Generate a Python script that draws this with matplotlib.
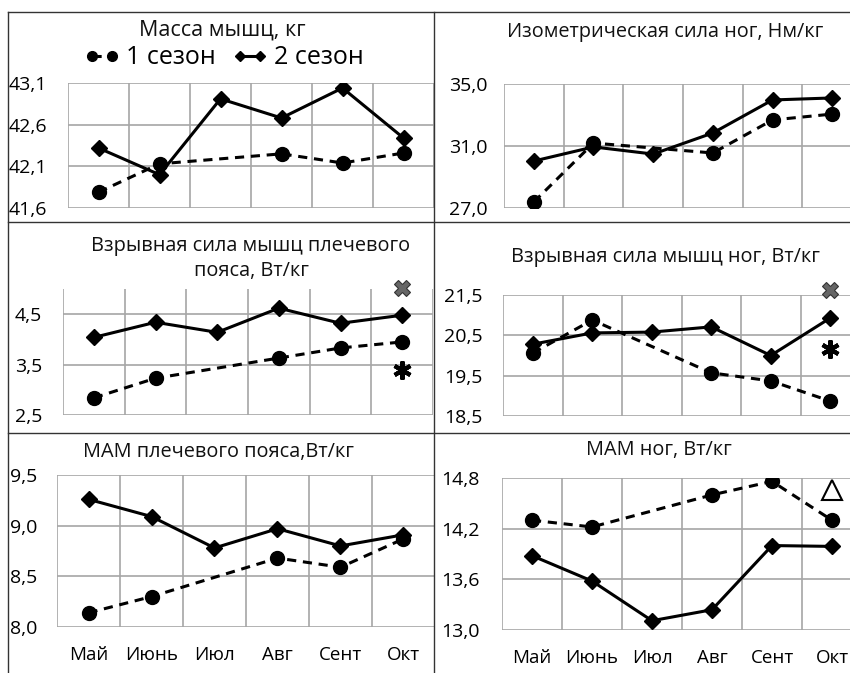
import numpy as np
import matplotlib.pyplot as plt
from matplotlib.lines import Line2D

plt.rcParams['font.family'] = ['Open Sans', 'DejaVu Sans']

W, H = 850, 673

months = ['Май', 'Июнь', 'Июл', 'Авг', 'Сент', 'Окт']
nan = np.nan

# 1 сезон (июль не измерялся) / 2 сезон
mass_s1 = [41.79, 42.13, nan, 42.25, 42.14, 42.26]
mass_s2 = [42.32, 42.00, 42.91, 42.68, 43.04, 42.44]

iso_s1 = [27.39, 31.19, nan, 30.55, 32.68, 33.06]
iso_s2 = [30.03, 30.94, 30.48, 31.84, 33.97, 34.10]

shoulder_s1 = [2.84, 3.23, nan, 3.63, 3.83, 3.95]
shoulder_s2 = [4.04, 4.34, 4.14, 4.62, 4.32, 4.48]

legs_s1 = [20.06, 20.88, nan, 19.57, 19.37, 18.87]
legs_s2 = [20.28, 20.56, 20.58, 20.71, 20.00, 20.93]

mam_sh_s1 = [8.14, 8.30, nan, 8.68, 8.59, 8.87]
mam_sh_s2 = [9.26, 9.09, 8.78, 8.97, 8.80, 8.91]

mam_leg_s1 = [14.30, 14.22, nan, 14.60, 14.76, 14.30]
mam_leg_s2 = [13.88, 13.58, 13.11, 13.24, 14.00, 13.99]

# значки достоверности у октября
shoulder_marks = [('x', 5.01), ('*', 3.39)]
legs_marks = [('x', 21.62), ('*', 20.16)]
mam_leg_marks = [('tri', 14.66)]

fig = plt.figure(figsize=(W / 100, H / 100), dpi=100)


def px_axes(x0, y0, x1, y1):
    return fig.add_axes([x0 / W, 1 - y1 / H, (x1 - x0) / W, (y1 - y0) / H])


def panel(rect, s1, s2, yticks, ylim, title, title_xy, marks=(), xlabels=False,
          tick_fs=14, title_fs=14.3, ypad=15):
    ax = px_axes(*rect)
    x = np.arange(6)
    s1 = np.array(s1, dtype=float)
    ok = ~np.isnan(s1)
    l1, = ax.plot(x[ok], s1[ok], color='black', lw=2.2, ls=(0, (3.0, 2.2)),
                  marker='o', ms=10, zorder=3)
    l2, = ax.plot(x, s2, color='black', lw=2.2, marker='D', ms=8, zorder=4)
    for kind, val in marks:
        if kind == 'x':
            ax.plot(5, val, marker='X', ms=11, color='#666666', mec='#333333',
                    mew=0.8, clip_on=False, zorder=5)
        elif kind == '*':
            ax.plot(5, val, marker=(6, 2, 0), ms=13, color='black', mew=3,
                    clip_on=False, zorder=5)
        else:
            ax.plot(5, val, marker='^', ms=15, mfc='white', mec='black',
                    mew=1.5, clip_on=False, zorder=5)
    ax.set_xlim(-0.5, 5.5)
    ax.set_ylim(*ylim)
    ax.set_yticks(yticks)
    ax.set_yticklabels([f'{v:.1f}'.replace('.', ',') for v in yticks], fontsize=tick_fs)
    ax.set_xticks(x)
    if xlabels:
        ax.set_xticklabels(months, fontsize=13.5)
    else:
        ax.set_xticklabels([])
    ax.set_xticks(np.arange(-0.5, 6.0, 1.0), minor=True)
    ax.tick_params(axis='both', which='both', length=0)
    ax.tick_params(axis='y', pad=ypad)
    ax.tick_params(axis='x', pad=14)
    ax.grid(True, axis='y', which='major', color='#a6a6a6', lw=1.2)
    ax.grid(True, axis='x', which='minor', color='#a6a6a6', lw=1.2)
    for s in ax.spines.values():
        s.set_visible(False)
    ax.set_facecolor('none')
    for i, line in enumerate(title):
        fig.text(title_xy[0] / W, 1 - (title_xy[1] + 25 * i) / H, line,
                 ha='center', va='center', fontsize=title_fs, color='#111111')
    return ax, l1, l2


ax1, h1, h2 = panel((68, 83, 434, 208), mass_s1, mass_s2, [41.6, 42.1, 42.6, 43.1],
                    (41.6, 43.1), ['Масса мышц, кг'], (222, 30),
                    tick_fs=14, title_fs=15.5, ypad=15)
panel((504, 84, 862, 208), iso_s1, iso_s2, [27.0, 31.0, 35.0], (27.0, 35.0),
      ['Изометрическая сила ног, Нм/кг'], (665, 32), ypad=12)
panel((63, 289, 433, 415), shoulder_s1, shoulder_s2, [2.5, 3.5, 4.5], (2.5, 5.0),
      ['Взрывная сила мышц плечевого', 'пояса, Вт/кг'], (251, 246), shoulder_marks)
panel((503, 295, 860, 416), legs_s1, legs_s2, [18.5, 19.5, 20.5, 21.5], (18.5, 21.5),
      ['Взрывная сила мышц ног, Вт/кг'], (665, 257), legs_marks)
panel((57, 475, 435, 627), mam_sh_s1, mam_sh_s2, [8.0, 8.5, 9.0, 9.5], (8.0, 9.5),
      ['МАМ плечевого пояса,Вт/кг'], (218, 452), xlabels=True, ypad=14)
panel((502, 478, 862, 630), mam_leg_s1, mam_leg_s2, [13.0, 13.6, 14.2, 14.8], (13.0, 14.8),
      ['МАМ ног, Вт/кг'], (659, 450), mam_leg_marks, xlabels=True, ypad=16)

fig.legend([h1, h2], ['1 сезон', '2 сезон'], loc='center', ncol=2,
           bbox_to_anchor=(224 / W, 1 - 58 / H), frameon=False, fontsize=18,
           handlelength=1.4, numpoints=2, markerscale=0.7, columnspacing=0.7,
           handletextpad=0.25, borderpad=0)

# рамки панелей
frame = dict(color='#333333', lw=1.0)
for y in (12, 222, 433):
    fig.add_artist(Line2D([8 / W, 1], [1 - y / H, 1 - y / H], **frame))
for x in (8, 434):
    fig.add_artist(Line2D([x / W, x / W], [1 - 12 / H, 0], **frame))

fig.savefig('out.png', dpi=100)
